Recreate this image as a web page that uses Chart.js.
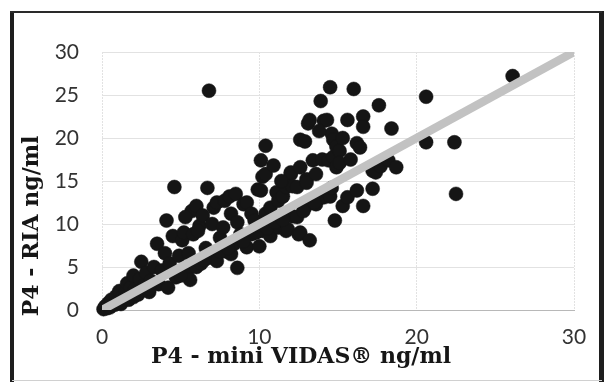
<!DOCTYPE html>
<html>
<head>
<meta charset="utf-8">
<script src="https://cdn.jsdelivr.net/npm/chart.js@4"></script>
<style>
  html, body { margin: 0; padding: 0; background: #fff; }
  #wrap { width: 604px; height: 382px; position: relative; }
</style>
</head>
<body>
<div id="wrap"><canvas id="c" width="604" height="382"></canvas></div>
<script>
// ---- data ----
const xTitle = "P4 - mini VIDAS® ng/ml";
const yTitle = "P4 - RIA ng/ml";
const xTicks = [0, 10, 20, 30];
const yTicks = [0, 5, 10, 15, 20, 25, 30];
const lineX = [0, 30];
const lineY = [0, 30];
const miniVidas = [
  0.1,0.2,0.3,0.4,0.5,0.6,0.8,0.9,1.0,1.1,1.2,1.3,1.5,1.6,1.7,1.8,2.0,2.1,2.3,2.4,
  2.5,2.7,2.8,3.0,3.1,3.3,3.5,3.6,3.8,4.0,4.1,4.2,4.3,4.5,4.6,4.7,4.9,5.1,5.2,5.4,
  5.5,5.6,5.7,5.8,6.0,6.0,6.2,6.3,6.4,6.6,6.7,6.8,6.9,7.0,7.1,7.3,7.3,7.5,7.7,7.8,
  7.9,8.1,8.2,8.2,8.4,8.5,8.6,8.6,8.8,9.0,9.2,9.2,9.5,9.5,9.7,9.9,10.0,10.1,10.1,10.2,
  10.2,10.4,10.4,10.4,10.7,10.7,11.1,11.2,11.2,11.5,11.7,11.7,11.8,12.0,12.0,12.1,12.1,12.4,12.4,12.5,
  12.6,12.6,12.6,12.9,12.9,13.0,13.0,13.1,13.2,13.2,13.4,13.4,13.6,13.6,13.9,13.9,14.0,14.1,14.1,14.3,
  14.3,14.4,14.5,14.5,14.6,14.6,14.7,14.7,14.8,14.9,14.9,15.1,15.1,15.3,15.6,15.6,15.8,16.0,16.2,16.2,
  16.4,16.6,16.6,16.6,17.2,17.2,17.4,17.6,17.7,18.2,18.4,18.7,20.6,20.6,22.4,22.5,26.1,
  2.0,3.0,5.0,6.5,7.5,8.0,9.0,9.8,10.5,11.0,11.5,12.8,13.5,
  10.9,11.4,13.8,15.3,5.3,6.1
];
const ria = [
  0.1,0.4,0.2,0.8,0.3,1.2,0.6,1.6,1.0,2.2,0.7,1.5,2.0,3.1,1.2,2.6,4.0,2.4,1.8,3.6,
  5.6,2.9,4.3,2.1,3.4,5.0,7.7,3.0,4.6,6.6,10.4,2.6,5.4,8.6,14.3,3.8,6.3,8.1,9.0,4.4,
  6.6,3.5,11.5,8.8,12.1,5.0,9.8,5.4,11.0,7.2,14.2,25.5,6.1,10.0,11.9,12.5,5.7,8.4,9.6,12.7,
  6.8,13.2,6.5,11.2,7.7,13.5,4.9,10.2,8.8,12.3,7.3,12.5,11.2,8.8,10.4,14.0,7.4,17.4,13.9,9.2,
  15.5,19.1,11.2,15.8,8.6,11.9,13.7,12.7,9.6,13.2,9.2,14.3,9.4,15.8,16.0,10.9,14.4,10.8,14.3,8.8,
  16.6,9.0,19.8,19.6,11.9,15.2,14.8,21.7,8.1,22.1,17.4,12.5,15.8,12.3,24.3,13.2,17.5,13.1,22.0,22.1,
  13.7,17.4,25.9,13.2,20.5,14.2,19.8,17.8,10.4,19.0,16.6,18.5,17.1,12.1,22.1,13.1,17.5,25.7,19.4,13.9,
  18.9,22.5,21.3,12.1,16.2,14.1,16.0,23.8,16.7,17.4,21.1,16.6,24.8,19.5,19.5,13.5,27.2,
  1.5,2.5,4.0,5.8,6.8,7.2,8.0,9.0,9.5,10.2,10.5,11.5,12.5,
  16.8,15.0,20.8,20.0,10.8,9.2
];

const points = miniVidas.map((v, i) => ({ x: v, y: ria[i] }));
const linePts = lineX.map((v, i) => ({ x: v, y: lineY[i] }));

const frameAndTitles = {
  id: 'frameAndTitles',
  beforeDraw(chart) {
    const c = chart.ctx;
    c.save();
    c.fillStyle = '#ffffff';
    c.fillRect(0, 0, chart.width, chart.height);
    c.restore();
  },
  afterDraw(chart) {
    const c = chart.ctx;
    c.save();
    // outer frame
    c.fillStyle = '#1e1e1e';
    c.fillRect(10, 11, 4, 371);
    c.fillRect(599, 11, 5, 371);
    c.fillStyle = '#2a2a2a';
    c.fillRect(10, 11, 592, 2);
    c.fillStyle = '#d0d0d0';
    c.fillRect(12, 380, 590, 1);
    // axis titles
    c.fillStyle = '#161616';
    c.font = 'bold 22px "DejaVu Serif", serif';
    c.textAlign = 'center';
    c.textBaseline = 'middle';
    c.fillText(xTitle, 301, 357);
    c.translate(32, 226);
    c.rotate(-Math.PI / 2);
    c.fillText(yTitle, 0, 0);
    c.restore();
  }
};

new Chart(document.getElementById('c'), {
  type: 'scatter',
  data: {
    datasets: [
      {
        type: 'line',
        data: linePts,
        borderColor: '#c2c2c2',
        borderWidth: 8.5,
        borderCapStyle: 'butt',
        pointRadius: 0,
        showLine: true,
        fill: false,
        order: 1
      },
      {
        data: points,
        backgroundColor: '#151515',
        borderColor: '#151515',
        borderWidth: 0.5,
        pointRadius: 7,
        pointHoverRadius: 7,
        clip: false,
        order: 2
      }
    ]
  },
  options: {
    responsive: false,
    animation: false,
    devicePixelRatio: 1,
    layout: { padding: { left: 0, right: 30, top: 52, bottom: 0 } },
    plugins: { legend: { display: false }, tooltip: { enabled: false } },
    scales: {
      x: {
        type: 'linear', min: 0, max: 30,
        afterBuildTicks: s => { s.ticks = xTicks.map(v => ({ value: v })); },
        afterFit: s => { s.height = 72; },
        ticks: { padding: 15, color: '#333333', font: { family: 'Lato', size: 21 } },
        grid: { color: '#e2e2e2', drawTicks: false },
        border: { display: true, color: '#b8b8b8', dash: [2, 1] }
      },
      y: {
        type: 'linear', min: 0, max: 30,
        afterBuildTicks: s => { s.ticks = yTicks.map(v => ({ value: v })); },
        afterFit: s => { s.width = 102; },
        ticks: { padding: 23, color: '#333333', font: { family: 'Lato', size: 21 } },
        grid: { color: ctx => (ctx.tick && ctx.tick.value === 0) ? 'rgba(0,0,0,0)' : '#e2e2e2', drawTicks: false },
        border: { display: false }
      }
    }
  },
  plugins: [frameAndTitles]
});
</script>
</body>
</html>
